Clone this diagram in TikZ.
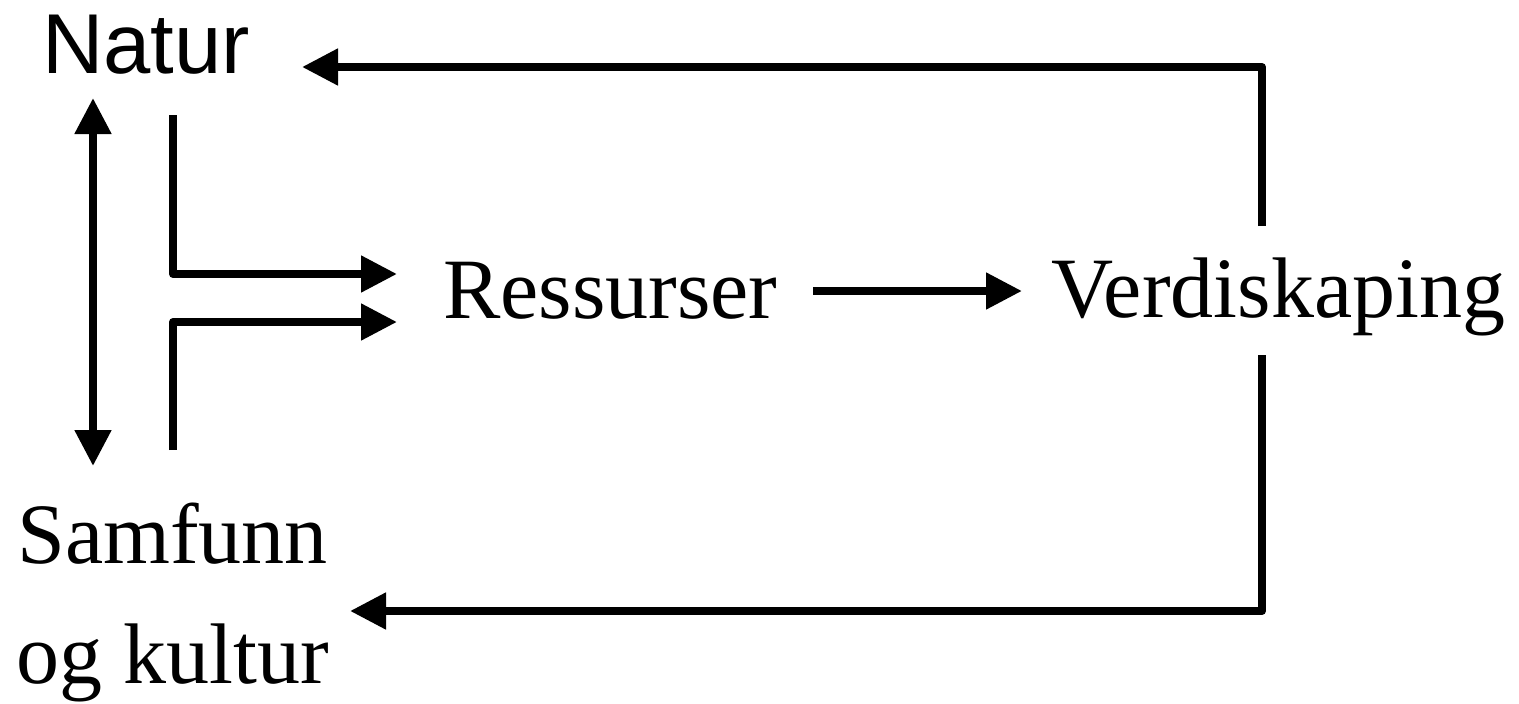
\documentclass[tikz,border=0pt]{standalone}
\usepackage{fontspec}
\setmainfont{Liberation Serif}
\newfontfamily\naturfont{Liberation Sans}
\usetikzlibrary{arrows.meta}
\newcommand{\bigword}{\fontsize{86}{100}\selectfont}

\begin{document}
\begin{tikzpicture}[x=1pt,y=-1pt]
                        \tikzstyle{word}=[inner sep=0pt, anchor=base west, font=\bigword]
                        \tikzstyle{flow}=[line width=8pt, line join=round]
                        \tikzstyle{arr}=[flow, -{Triangle[length=36pt,width=35pt]}]
                        \tikzstyle{twoarr}=[flow, {Triangle[length=36pt,width=35pt]}-{Triangle[length=36pt,width=35pt]}]
                        \useasboundingbox (0,0) rectangle (1519,704);
                        \node[word, font=\naturfont\fontsize{85}{100}\selectfont] (natur) at (42,73) {Natur};
                        \node[word] (ressurser) at (443,318) {Ressurser};
                        \node[word] (verdi) at (1051,317) {Verdiskaping};
                        \node[word] (samfunn) at (17,563) {Samfunn};
                        \node[word] (kultur) at (16,683) {og kultur};
                        \coordinate (nup) at (93,98);
                        \coordinate (sdown) at (93,466);
                        \coordinate (forktop) at (173,115);
                        \coordinate (forkbot) at (173,450);
                        \coordinate (rin1) at (397,274);
                        \coordinate (rin2) at (397,322);
                        \coordinate (rout) at (813,291);
                        \coordinate (vin) at (1022,291);
                        \coordinate (vtop) at (1262,226);
                        \coordinate (vbot) at (1262,355);
                        \coordinate (nin) at (302,67);
                        \coordinate (sin) at (350,611);
                        \draw[twoarr] (nup) -- (sdown);
                        \draw[arr] (forktop) |- (rin1);
                        \draw[arr] (forkbot) |- (rin2);
                        \draw[arr] (rout) -- (vin);
                        \draw[arr] (vtop) |- (nin);
                        \draw[arr] (vbot) |- (sin);
\end{tikzpicture}
\end{document}
